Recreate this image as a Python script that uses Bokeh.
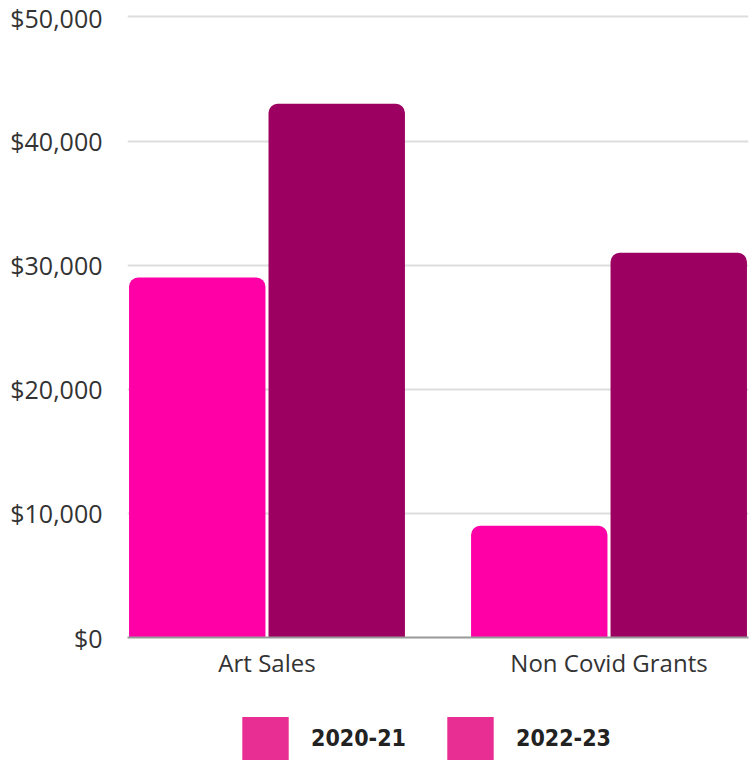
from bokeh.plotting import figure
from bokeh.layouts import column
from bokeh.models import FactorRange, Range1d, ColumnDataSource, Legend, LegendItem, FixedTicker, NumeralTickFormatter
from bokeh.transform import dodge
from bokeh.embed import file_html
from bokeh.resources import INLINE

categories = ["Art Sales", "Non Covid Grants"]
years = ["2020-21", "2022-23"]
values_2020_21 = [29000, 9000]
values_2022_23 = [43000, 31000]
y_ticks = [0, 10000, 20000, 30000, 40000, 50000]

color_2020_21 = "#ff00a6"
color_2022_23 = "#9c0060"
legend_color = "#e82d93"

src = ColumnDataSource(dict(cat=categories, v1=values_2020_21, v2=values_2022_23))

p = figure(width=750, height=684, output_backend="svg", toolbar_location=None,
           x_range=FactorRange(*categories, range_padding=0, factor_padding=0.226),
           y_range=Range1d(0, 50200),
           min_border_left=127, min_border_right=2, min_border_top=14, min_border_bottom=47)

p.vbar(x=dodge("cat", -0.25, range=p.x_range), top="v1", width=0.489, source=src,
       fill_color=color_2020_21, line_color=None, border_radius=(9, 9, 0, 0))
p.vbar(x=dodge("cat", 0.25, range=p.x_range), top="v2", width=0.489, source=src,
       fill_color=color_2022_23, line_color=None, border_radius=(9, 9, 0, 0))

p.outline_line_color = None
p.xgrid.grid_line_color = None
p.ygrid.grid_line_color = "#dddddd"
p.ygrid.grid_line_width = 2
p.ygrid.ticker = FixedTicker(ticks=y_ticks)
p.yaxis.ticker = FixedTicker(ticks=y_ticks)
p.yaxis.formatter = NumeralTickFormatter(format="$0,0")
p.yaxis.axis_line_color = None
p.yaxis.major_tick_line_color = None
p.yaxis.minor_tick_line_color = None
p.yaxis.major_label_text_font = "Open Sans"
p.yaxis.major_label_text_font_size = "25px"
p.yaxis.major_label_text_color = "#333333"
p.yaxis.major_label_standoff = 19

p.xaxis.axis_line_color = "#999999"
p.xaxis.axis_line_width = 2
p.xaxis.major_tick_line_color = None
p.xaxis.minor_tick_line_color = None
p.xaxis.major_label_standoff = 2
p.xaxis.major_label_text_font = "Open Sans"
p.xaxis.major_label_text_font_size = "24px"
p.xaxis.major_label_text_color = "#333333"

# legend figure (both swatches are the same pink in the reference)
lg = figure(width=750, height=76, output_backend="svg", toolbar_location=None,
            x_range=Range1d(0, 1), y_range=Range1d(0, 1),
            min_border_left=127, min_border_right=2, min_border_top=0, min_border_bottom=0)
lg.axis.visible = False
lg.grid.visible = False
lg.outline_line_color = None
dummy = ColumnDataSource(dict(x=[0.5], top=[-5]))
r1 = lg.vbar(x="x", top="top", bottom="top", width=0.01, source=dummy, fill_color=legend_color, line_color=None)
r2 = lg.vbar(x="x", top="top", bottom="top", width=0.01, source=dummy, fill_color=legend_color, line_color=None)
legend = Legend(items=[LegendItem(label=years[0], renderers=[r1]),
                       LegendItem(label=years[1], renderers=[r2])],
                orientation="horizontal", location=(109, -5),
                glyph_width=58, glyph_height=54, label_standoff=17, spacing=35,
                padding=0, margin=0, border_line_color=None, background_fill_alpha=0,
                label_text_font="'DejaVu Sans Condensed', 'Roboto'", label_text_font_style="bold",
                label_text_font_size="23px", label_text_color="#222222",
                label_height=54)
lg.add_layout(legend, "center")

layout = column(p, lg, spacing=0)
open("out.html", "w").write(file_html(layout, INLINE))
